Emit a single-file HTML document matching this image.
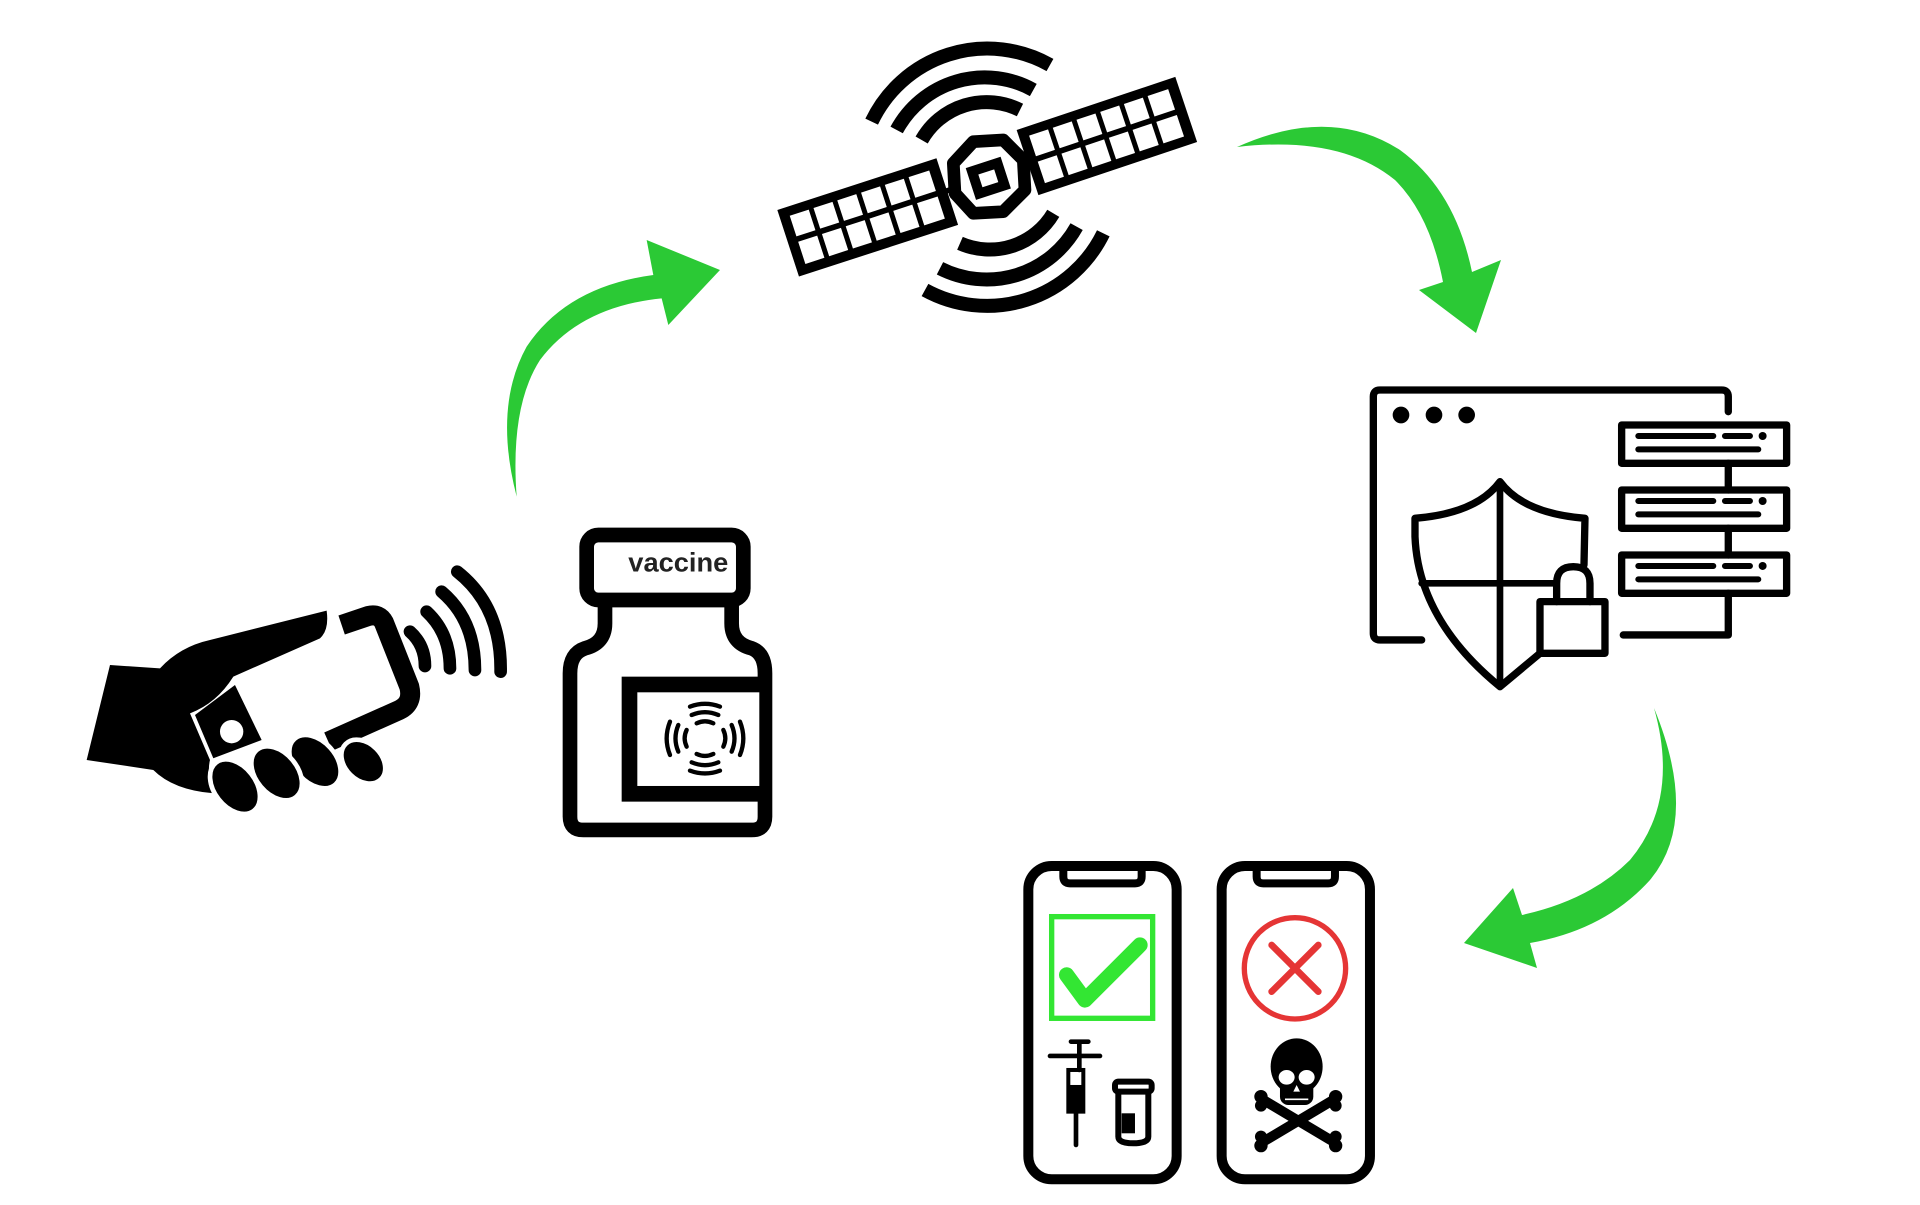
<!DOCTYPE html>
<html><head><meta charset="utf-8"><style>html,body{margin:0;padding:0;background:#fff}svg{display:block}</style></head>
<body>
<svg width="1920" height="1205" viewBox="0 0 1920 1205" xmlns="http://www.w3.org/2000/svg">
<rect width="1920" height="1205" fill="#fff"/>
<!-- Arrows -->
<g fill="#2bc935">
<g transform="translate(480,220) scale(0.3333)">
<path d="M110,830 Q40,560 140,380 Q260,200 520,165 L500,60 L720,150 L565,315 L545,235 Q300,260 180,420 Q90,560 110,830 Z"/>
</g>
<path d="M1237,147 Q1330,105 1400,150 Q1455,190 1472,272 L1501,260 L1476,333 L1419,290 L1443,282 Q1430,215 1395,180 Q1340,135 1237,147 Z"/>
<path d="M1654,708 Q1700,820 1650,880 Q1605,930 1530,943 L1537,968 L1464,943 L1513,888 L1522,915 Q1590,900 1630,860 Q1680,800 1654,708 Z"/>
</g>

<!-- Hand with phone -->
<g transform="translate(60,540) scale(0.3333)">
<path d="M150,375 L300,385 Q360,320 450,300 L800,212 Q808,270 780,295 L520,410 Q470,490 390,520 L450,660 Q440,700 460,760 Q340,750 280,690 L80,660 Z" fill="#000"/>
<path d="M845,255 L925,228 Q958,220 972,248 L1048,440 Q1060,490 1018,510 L805,605" fill="none" stroke="#000" stroke-width="60" stroke-linejoin="round"/>
<polygon points="405,525 525,435 605,600 460,655" fill="#000"/>
<circle cx="515" cy="575" r="35" fill="#fff"/>
<g fill="#000" stroke="#fff" stroke-width="14">
<ellipse cx="910" cy="665" rx="55" ry="75" transform="rotate(-45 910 665)"/>
<ellipse cx="765" cy="665" rx="62" ry="92" transform="rotate(-42 765 665)"/>
<ellipse cx="650" cy="700" rx="62" ry="92" transform="rotate(-40 650 700)"/>
<ellipse cx="525" cy="740" rx="62" ry="92" transform="rotate(-38 525 740)"/>
</g>
<g fill="none" stroke="#000" stroke-width="38" stroke-linecap="round">
<path d="M1050,275 Q1095,315 1095,378"/>
<path d="M1100,215 Q1170,280 1170,385"/>
<path d="M1145,155 Q1245,240 1245,390"/>
<path d="M1192,95 Q1325,200 1322,395"/>
</g>
</g>

<!-- Satellite -->
<g transform="translate(760,30) scale(0.3333)">
<g fill="none" stroke="#000" stroke-width="42">
<path d="M335,275 A384,384 0 0 1 870,105"/>
<path d="M410,300 A300,300 0 0 1 820,180"/>
<path d="M485,330 A224,224 0 0 1 780,240"/>
<path d="M600,640 A222,222 0 0 0 880,550"/>
<path d="M540,715 A309,309 0 0 0 950,590"/>
<path d="M495,780 A388,388 0 0 0 1030,610"/>
</g>
<g transform="translate(52,540) rotate(-18)">
<rect x="0" y="0" width="502" height="210" fill="#000"/>
<g fill="#fff">
<rect x="30" y="28" width="60" height="65"/><rect x="105" y="28" width="60" height="65"/><rect x="180" y="28" width="60" height="65"/><rect x="255" y="28" width="60" height="65"/><rect x="330" y="28" width="60" height="65"/><rect x="405" y="28" width="65" height="65"/>
<rect x="30" y="110" width="60" height="70"/><rect x="105" y="110" width="60" height="70"/><rect x="180" y="110" width="60" height="70"/><rect x="255" y="110" width="60" height="70"/><rect x="330" y="110" width="60" height="70"/><rect x="405" y="110" width="65" height="70"/>
</g>
</g>
<g transform="translate(770,300) rotate(-18.5)">
<rect x="0" y="0" width="502" height="206" fill="#000"/>
<g fill="#fff">
<rect x="30" y="28" width="60" height="65"/><rect x="105" y="28" width="60" height="65"/><rect x="180" y="28" width="60" height="65"/><rect x="255" y="28" width="60" height="65"/><rect x="330" y="28" width="60" height="65"/><rect x="405" y="28" width="65" height="65"/>
<rect x="30" y="110" width="60" height="68"/><rect x="105" y="110" width="60" height="68"/><rect x="180" y="110" width="60" height="68"/><rect x="255" y="110" width="60" height="68"/><rect x="330" y="110" width="60" height="68"/><rect x="405" y="110" width="65" height="68"/>
</g>
</g>
<g stroke="#000" stroke-width="16"><line x1="540" y1="490" x2="610" y2="465"/><line x1="760" y1="420" x2="830" y2="395"/></g>
<polygon points="640,335 730,330 790,390 795,480 730,545 640,550 585,490 580,400" fill="#fff" stroke="#000" stroke-width="38" stroke-linejoin="round"/>
<rect x="645" y="410" width="80" height="70" fill="#fff" stroke="#000" stroke-width="30" transform="rotate(-18 685 445)"/>
</g>

<!-- Security / servers -->
<g transform="translate(1360,380) scale(0.3333)" fill="none" stroke="#000" stroke-width="22" stroke-linecap="round" stroke-linejoin="round">
<path d="M1105,95 L1105,50 Q1105,30 1085,30 L60,30 Q40,30 40,50 L40,760 Q40,780 60,780 L185,780"/>
<path d="M790,765 L1105,765 L1105,640 M1105,250 L1105,330 M1105,445 L1105,525"/>
<g fill="#000" stroke="none"><circle cx="123" cy="105" r="25"/><circle cx="222" cy="105" r="25"/><circle cx="320" cy="105" r="25"/></g>
<rect x="785" y="135" width="495" height="115"/>
<rect x="785" y="330" width="495" height="115"/>
<rect x="785" y="525" width="495" height="115"/>
<g stroke-width="18">
<path d="M835,168 L1060,168 M1095,168 L1170,168 M835,208 L1195,208"/>
<path d="M835,363 L1060,363 M1095,363 L1170,363 M835,403 L1195,403"/>
<path d="M835,558 L1060,558 M1095,558 L1170,558 M835,598 L1195,598"/>
</g>
<g fill="#000" stroke="none"><circle cx="1208" cy="168" r="12"/><circle cx="1208" cy="363" r="12"/><circle cx="1208" cy="558" r="12"/></g>
<path d="M540,820 L420,920 Q175,720 165,470 L165,415 Q350,400 420,305 Q490,400 675,415 L672,555"/>
<path d="M420,305 L420,920 M185,610 L580,610" stroke-width="20"/>
<rect x="540" y="665" width="195" height="155" fill="#fff"/>
<path d="M590,665 L590,610 Q590,560 640,560 Q690,560 690,610 L690,665"/>
</g>

<!-- Vial -->
<g transform="translate(550,520) scale(0.3333)">
<rect x="110" y="45" width="470" height="195" rx="35" fill="none" stroke="#000" stroke-width="44"/>
<text x="385" y="155" text-anchor="middle" font-family="Liberation Sans, sans-serif" font-size="80" font-weight="bold" fill="#222" textLength="300" lengthAdjust="spacingAndGlyphs">vaccine</text>
<path d="M165,245 L165,310 Q165,370 105,385 Q60,400 60,460 L60,890 Q60,930 100,930 L605,930 Q645,930 645,890 L645,460 Q645,400 605,385 Q545,370 545,310 L545,245" fill="none" stroke="#000" stroke-width="44"/>
<rect x="215" y="470" width="430" height="375" fill="#000"/>
<rect x="262" y="517" width="366" height="281" fill="#fff"/>
<g fill="none" stroke="#000" stroke-width="13" stroke-linecap="round">
<path d="M440,610 Q465,598 490,610 M425,585 Q465,568 505,585 M420,560 Q465,543 510,560"/>
<path d="M440,702 Q465,714 490,702 M425,727 Q465,744 505,727 M420,752 Q465,769 510,752"/>
<path d="M410,630 Q398,655 410,680 M385,615 Q368,655 385,695 M360,605 Q340,655 360,705"/>
<path d="M520,630 Q532,655 520,680 M545,615 Q562,655 545,695 M570,605 Q590,655 570,705"/>
</g>
</g>

<!-- Result phones -->
<g transform="translate(1000,840) scale(0.3333)">
<g fill="none" stroke="#000" stroke-width="30">
<rect x="85" y="78" width="445" height="940" rx="70"/>
<rect x="665" y="78" width="445" height="940" rx="70"/>
</g>
<g fill="none" stroke="#000" stroke-width="24" stroke-linejoin="round">
<path d="M190,78 L190,110 Q190,130 210,130 L405,130 Q425,130 425,110 L425,78"/>
<path d="M770,78 L770,110 Q770,130 790,130 L985,130 Q1005,130 1005,110 L1005,78"/>
</g>
<rect x="155" y="230" width="303" height="305" fill="none" stroke="#33e633" stroke-width="16"/>
<polyline points="200,405 255,480 420,315" fill="none" stroke="#33e633" stroke-width="46" stroke-linecap="round" stroke-linejoin="round"/>
<g stroke="#000" fill="none" stroke-linecap="round">
<path d="M213,605 L265,605 M150,648 L300,648 M238,605 L238,690 M228,815 L228,915" stroke-width="14"/>
<rect x="205" y="690" width="45" height="125" stroke-width="12"/>
</g>
<rect x="205" y="735" width="45" height="80" fill="#000"/>
<g fill="none" stroke="#000" stroke-width="18">
<rect x="345" y="725" width="110" height="30" rx="10"/>
<path d="M355,755 L355,890 Q355,910 400,910 Q445,910 445,890 L445,755"/>
</g>
<rect x="365" y="820" width="40" height="60" fill="#000"/>
<circle cx="885" cy="385" r="152" fill="none" stroke="#e53535" stroke-width="16"/>
<path d="M815,315 L955,455 M955,315 L815,455" stroke="#e53535" stroke-width="20" stroke-linecap="round"/>
<g stroke="#000" stroke-width="30" stroke-linecap="round">
<path d="M790,780 L1000,905 M1000,780 L790,905"/>
</g>
<g fill="#000">
<circle cx="783" cy="770" r="20"/><circle cx="783" cy="797" r="18"/><circle cx="1007" cy="770" r="20"/><circle cx="1007" cy="797" r="18"/>
<circle cx="783" cy="890" r="18"/><circle cx="783" cy="917" r="20"/><circle cx="1007" cy="890" r="18"/><circle cx="1007" cy="917" r="20"/>
<ellipse cx="890" cy="680" rx="78" ry="85"/>
<rect x="840" y="710" width="100" height="85" rx="25"/>
</g>
<g fill="#fff">
<ellipse cx="860" cy="712" rx="24" ry="22"/><ellipse cx="920" cy="712" rx="24" ry="22"/>
<path d="M890,735 L880,755 L900,755 Z"/>
<path d="M855,778 L925,778" stroke="#fff" stroke-width="5"/>
</g>
</g>
</svg>
</body></html>
